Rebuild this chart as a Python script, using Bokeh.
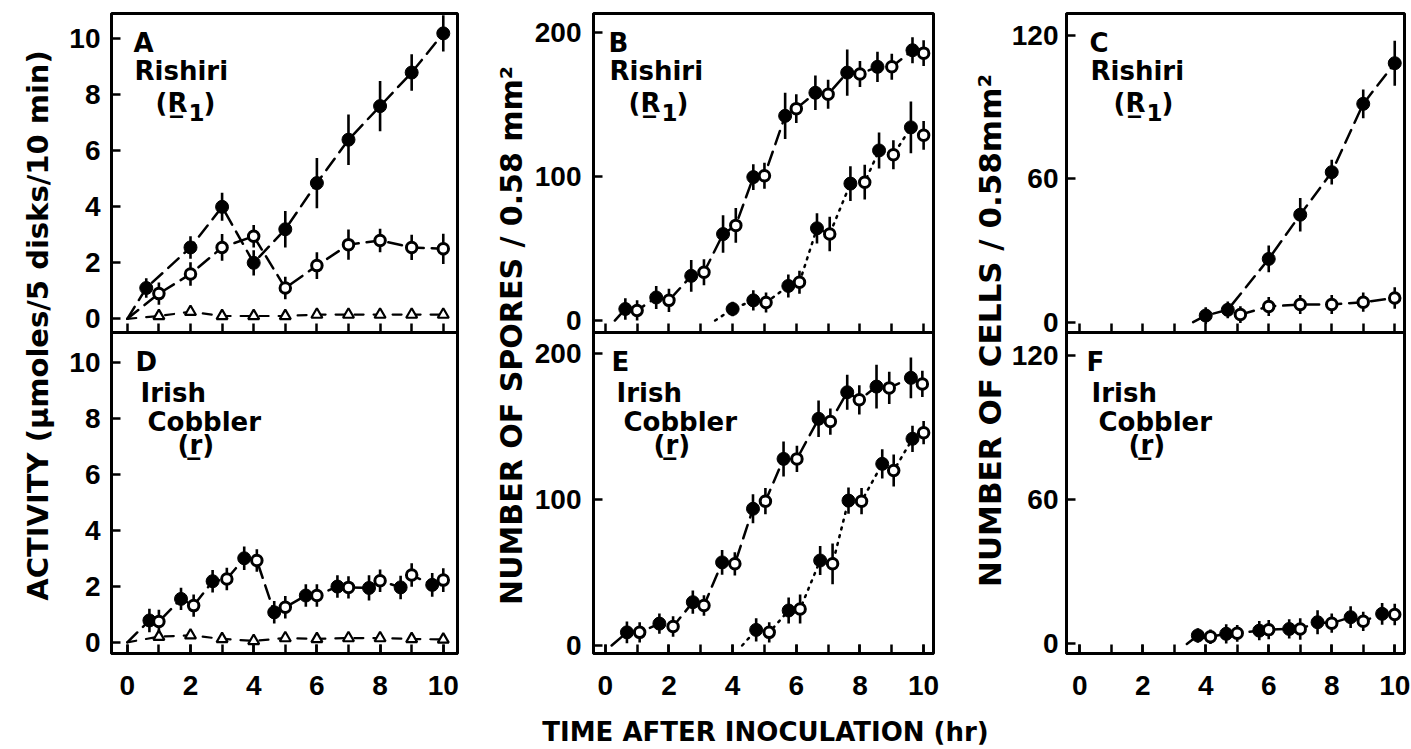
import numpy as np
from bokeh.plotting import figure
from bokeh.layouts import row, column
from bokeh.models import Range1d, FixedTicker
from bokeh.embed import file_html
from bokeh.resources import INLINE
from bokeh.core.properties import value

# ---------------- data ----------------
hour_ticks = [0, 2, 4, 6, 8, 10]
hour_minor = [0, 1, 2, 3, 4, 5, 6, 7, 8, 9, 10]
activity_ticks = [0, 2, 4, 6, 8, 10]
spore_ticks = [0, 100, 200]
cell_ticks = [0, 60, 120]

# Panel A  (Rishiri, activity)
a_fill_x = [0.6, 2, 3, 4, 5, 6, 7, 8, 9, 10]
a_fill_y = [1.1, 2.55, 4.0, 2.0, 3.2, 4.85, 6.4, 7.6, 8.8, 10.2]
a_fill_e = [0.35, 0.4, 0.5, 0.45, 0.65, 0.9, 0.9, 0.9, 0.65, 0.65]
a_open_x = [1, 2, 3, 4, 5, 6, 7, 8, 9, 10]
a_open_y = [0.9, 1.6, 2.55, 2.95, 1.1, 1.9, 2.65, 2.8, 2.55, 2.5]
a_open_e = [0.4, 0.42, 0.48, 0.4, 0.4, 0.48, 0.54, 0.42, 0.45, 0.54]
a_tri_x = [1, 2, 3, 4, 5, 6, 7, 8, 9, 10]
a_tri_y = [0.1, 0.25, 0.1, 0.1, 0.1, 0.15, 0.15, 0.15, 0.15, 0.15]

# Panel D  (Irish Cobbler, activity)
d_fill_x = [0.7, 1.7, 2.7, 3.7, 4.65, 5.65, 6.65, 7.65, 8.65, 9.65]
d_fill_y = [0.78, 1.55, 2.18, 3.0, 1.07, 1.67, 1.99, 1.94, 1.96, 2.05]
d_fill_e = [0.42, 0.4, 0.4, 0.42, 0.4, 0.4, 0.4, 0.45, 0.42, 0.42]
d_open_x = [1, 2.1, 3.15, 4.1, 5, 6, 7, 8, 9, 10]
d_open_y = [0.74, 1.31, 2.26, 2.92, 1.25, 1.67, 1.96, 2.2, 2.4, 2.22]
d_open_e = [0.42, 0.4, 0.4, 0.4, 0.4, 0.4, 0.4, 0.4, 0.42, 0.42]
d_tri_x = [1, 2, 3, 4, 5, 6, 7, 8, 9, 10]
d_tri_y = [0.2, 0.25, 0.12, 0.05, 0.15, 0.12, 0.15, 0.15, 0.12, 0.1]

# Panel B  (Rishiri, spores)
b_up_fill_x = [0.63, 1.6, 2.7, 3.7, 4.65, 5.65, 6.6, 7.6, 8.55, 9.65]
b_up_fill_y = [8, 16, 31, 60, 99.5, 142, 158, 172, 176, 187.5]
b_up_fill_e = [7.5, 8, 11, 13, 9, 16, 12, 16, 10.5, 9]
b_up_open_x = [1, 2, 3.1, 4.1, 5, 6, 7, 8, 9, 10]
b_up_open_y = [7, 14, 33.5, 66, 100.5, 147, 157, 171, 176, 185.5]
b_up_open_e = [7, 8, 9, 12, 9, 10, 10, 9, 9, 9]
b_lo_fill_x = [4.0, 4.65, 5.75, 6.65, 7.7, 8.6, 9.6]
b_lo_fill_y = [8, 14, 24, 64, 95, 118, 134]
b_lo_fill_e = [5, 7, 8, 10.5, 12, 12.5, 18]
b_lo_open_x = [5.05, 6.1, 7.05, 8.15, 9.05, 10]
b_lo_open_y = [12.5, 26.5, 60, 96, 115, 128.5]
b_lo_open_e = [7, 8, 12, 12, 10, 10]

# Panel E  (Irish Cobbler, spores)
e_up_fill_x = [0.68, 1.7, 2.75, 3.67, 4.64, 5.6, 6.7, 7.6, 8.52, 9.6]
e_up_fill_y = [9, 15, 29.7, 57, 93.8, 128, 155.5, 173.7, 177.6, 183.6]
e_up_fill_e = [7.5, 7, 8, 8.5, 10, 12, 12.5, 12, 15, 14]
e_up_open_x = [1.08, 2.13, 3.1, 4.07, 5.03, 6.02, 7.07, 7.98, 8.92, 9.96]
e_up_open_y = [9, 13, 27.4, 56, 99, 128, 153.6, 168.5, 176.7, 179.4]
e_up_open_e = [7, 7, 7, 8, 9, 9, 9, 10, 11, 9]
e_lo_fill_x = [4.74, 5.76, 6.75, 7.64, 8.7, 9.65]
e_lo_fill_y = [10.7, 24, 58.3, 99.4, 124.6, 141.8]
e_lo_fill_e = [8, 9, 10, 9, 10, 9]
e_lo_open_x = [5.15, 6.12, 7.14, 8.05, 9.06, 10]
e_lo_open_y = [9, 25, 56, 99, 120, 146]
e_lo_open_e = [7, 10, 14, 9, 11, 8]

# Panel C  (Rishiri, cells)
c_fill_x = [4.0, 4.7, 6.0, 7.0, 8.0, 9.0, 10.0]
c_fill_y = [2.8, 5.2, 26.5, 45, 62.8, 91.4, 108.4]
c_fill_e = [3.5, 3.5, 5.6, 7, 5.2, 6, 9.4]
c_open_x = [5.1, 6, 7, 8, 9, 10]
c_open_y = [3.2, 6.6, 7.4, 7.4, 8.4, 10.1]
c_open_e = [3.5, 4, 4, 4, 4, 4.5]

# Panel F  (Irish Cobbler, cells)
f_fill_x = [3.75, 4.65, 5.7, 6.65, 7.55, 8.6, 9.6]
f_fill_y = [3.5, 4.2, 5.5, 6.2, 9.0, 11.1, 12.5]
f_fill_e = [3, 4, 4, 4, 5, 4.5, 4.5]
f_open_x = [4.15, 5.0, 6.0, 7.0, 8.0, 9.0, 10.0]
f_open_y = [3.0, 4.4, 5.9, 6.2, 8.6, 9.4, 12.2]
f_open_e = [3, 3.5, 4, 4.5, 4, 4, 4.5]

# starting points of the drawn curves (time, value)
origin_zero = (0.0, 0.0)
origin_b_up = (0.3, 0.0)
origin_b_lo = (3.45, 0.0)
origin_e_up = (0.2, 0.0)
origin_e_lo = (4.3, 0.0)
origin_c = (3.6, 0.0)
origin_f = (3.4, 0.0)

# texts
title_activity = "ACTIVITY (\u03bcmoles/5 disks/10 min)"
title_spores = "NUMBER OF SPORES / 0.58 mm\u00b2"
title_cells = "NUMBER OF CELLS / 0.58mm\u00b2"
title_time = "TIME AFTER INOCULATION (hr)"

# ---------------- styling / helpers ----------------
FONT = "DejaVu Sans"
TICK_FONT = "Liberation Sans"
TOP_H = 319
BOT_H = 321
TOP_BORDER = 13
OVERLAP = 6
BOT_BORDER = 54
COL_H = TOP_BORDER + TOP_H + BOT_H + BOT_BORDER
DASH = "14 8"
TRI_DASH = "9 10"
DOT = "2 6"


def style_axis(ax, standoff):
    ax.axis_line_color = "black"
    ax.axis_line_width = 3
    ax.major_tick_line_color = "black"
    ax.major_tick_line_width = 2.5
    ax.minor_tick_line_color = "black"
    ax.minor_tick_line_width = 2.5
    ax.major_tick_in = 9
    ax.major_tick_out = 0
    ax.minor_tick_in = 9
    ax.minor_tick_out = 0
    ax.major_label_text_font = TICK_FONT
    ax.major_label_text_font_style = "bold"
    ax.major_label_text_font_size = "28px"
    ax.major_label_text_color = "black"
    ax.major_label_standoff = standoff


def panel(frame_w, frame_h, xlim, ylim, yticks, border_l, border_r,
          upper, ystandoff):
    p = figure(frame_width=frame_w, frame_height=frame_h,
               x_range=Range1d(*xlim), y_range=Range1d(*ylim),
               output_backend="svg", toolbar_location=None,
               min_border_left=border_l, min_border_right=border_r,
               min_border_top=TOP_BORDER if upper else 0,
               min_border_bottom=OVERLAP if upper else BOT_BORDER,
               background_fill_color="white", border_fill_color=None,
               outline_line_color="black", outline_line_width=3)
    p.xgrid.visible = False
    p.ygrid.visible = False
    xa = p.xaxis[0]
    if upper:
        xa.ticker = FixedTicker(ticks=[], minor_ticks=hour_minor)
        style_axis(xa, 0)
    else:
        xa.ticker = FixedTicker(ticks=hour_ticks, minor_ticks=hour_minor)
        style_axis(xa, 22)
        # the lower panel's canvas starts exactly on the upper panel's frame edge
        p.margin = (-OVERLAP, 0, 0, 0)
    ya = p.yaxis[0]
    ya.ticker = FixedTicker(ticks=yticks)
    style_axis(ya, ystandoff)
    return p


def joined(origin, *series):
    xs = [origin[0]] if origin is not None else []
    ys = [origin[1]] if origin is not None else []
    for sx, sy in series:
        xs += list(sx)
        ys += list(sy)
    order = np.argsort(xs, kind="stable")
    return np.asarray(xs)[order], np.asarray(ys)[order]


def curve(p, origin, series, dash, width=2.5):
    x, y = joined(origin, *series)
    p.line(x, y, line_color="black", line_width=width, line_dash=dash,
           line_cap="round")


def errbars(p, x, y, e):
    x = np.asarray(x, float)
    y = np.asarray(y, float)
    e = np.asarray(e, float)
    p.segment(x0=x, y0=y - e, x1=x, y1=y + e, line_color="black",
              line_width=2.6)


def filled(p, x, y, e):
    errbars(p, x, y, e)
    p.scatter(x, y, marker="circle", size=13, fill_color="black",
              line_color="black")


def opened(p, x, y, e):
    errbars(p, x, y, e)
    p.scatter(x, y, marker="circle", size=10.5, fill_color="white",
              line_color="black", line_width=3)


def triangles(p, x, y):
    p.scatter(x, y, marker="triangle", size=11, fill_color="white",
              line_color="black", line_width=2.2)


def panel_text(p, items):
    x0 = p.x_range.start
    y0 = p.y_range.end
    for txt, dx, dy, size in items:
        p.text(x=[x0], y=[y0], text=[txt], x_offset=dx, y_offset=dy,
               text_font=value(FONT), text_font_style="bold",
               text_font_size=size, text_color="black",
               text_align="left", text_baseline="alphabetic")


def rishiri(letter, dx0, dx1):
    return [(letter, dx0, 29, "26px"), ("Rishiri", dx0 + 1, 57, "26px"),
            ("(R\u0332", dx1, 89, "26px"), ("1", dx1 + 33, 99, "23px"),
            (")", dx1 + 48, 89, "26px")]


def irish(letter, dx0):
    return [(letter, dx0, 29, "26px"), ("Irish", dx0 + 5, 60, "26px"),
            ("Cobbler", dx0 + 12, 89, "26px"), ("(r\u0332)", dx0 + 42, 112, "26px")]


def title_fig(w, h, text, x, y, size, angle):
    p = figure(frame_width=w, frame_height=h, x_range=Range1d(0, w),
               y_range=Range1d(0, h), x_axis_location=None,
               y_axis_location=None, min_border=0, outline_line_color=None,
               toolbar_location=None, output_backend="svg",
               background_fill_color="white", border_fill_color="white")
    p.xgrid.visible = False
    p.ygrid.visible = False
    p.text(x=[x], y=[y], text=[text], angle=angle, text_font=value(FONT),
           text_font_style="bold", text_font_size=size, text_color="black",
           text_align="center", text_baseline="alphabetic")
    return p


# ---------------- column 1: activity (A, D) ----------------
pa = panel(346, TOP_H, (-0.5, 10.45), (-0.49, 10.91), activity_ticks, 53, 8, True, 11)
pd = panel(346, BOT_H, (-0.5, 10.45), (-0.40, 11.06), activity_ticks, 53, 8, False, 11)

curve(pa, origin_zero, [(a_fill_x, a_fill_y)], DASH)
curve(pa, origin_zero, [(a_open_x, a_open_y)], DASH)
curve(pa, origin_zero, [(a_tri_x, a_tri_y)], TRI_DASH, 2.2)
filled(pa, a_fill_x, a_fill_y, a_fill_e)
opened(pa, a_open_x, a_open_y, a_open_e)
triangles(pa, a_tri_x, a_tri_y)
panel_text(pa, rishiri("A", 22, 44))

curve(pd, origin_zero, [(d_fill_x, d_fill_y), (d_open_x, d_open_y)], DASH)
curve(pd, origin_zero, [(d_tri_x, d_tri_y)], TRI_DASH, 2.2)
triangles(pd, d_tri_x, d_tri_y)
filled(pd, d_fill_x, d_fill_y, d_fill_e)
opened(pd, d_open_x, d_open_y, d_open_e)
panel_text(pd, irish("D", 24))

# ---------------- column 2: spores (B, E) ----------------
pb = panel(340, TOP_H, (-0.37, 10.31), (-8.3, 213.0), spore_ticks, 59, 8, True, 12)
pe = panel(340, BOT_H, (-0.37, 10.31), (-5.5, 214.7), spore_ticks, 59, 8, False, 12)

curve(pb, origin_b_up, [(b_up_fill_x, b_up_fill_y), (b_up_open_x, b_up_open_y)], DASH)
curve(pb, origin_b_lo, [(b_lo_fill_x, b_lo_fill_y), (b_lo_open_x, b_lo_open_y)], DOT)
filled(pb, b_up_fill_x, b_up_fill_y, b_up_fill_e)
opened(pb, b_up_open_x, b_up_open_y, b_up_open_e)
filled(pb, b_lo_fill_x, b_lo_fill_y, b_lo_fill_e)
opened(pb, b_lo_open_x, b_lo_open_y, b_lo_open_e)
panel_text(pb, rishiri("B", 15, 35))

curve(pe, origin_e_up, [(e_up_fill_x, e_up_fill_y), (e_up_open_x, e_up_open_y)], DASH)
curve(pe, origin_e_lo, [(e_lo_fill_x, e_lo_fill_y), (e_lo_open_x, e_lo_open_y)], DOT)
filled(pe, e_up_fill_x, e_up_fill_y, e_up_fill_e)
opened(pe, e_up_open_x, e_up_open_y, e_up_open_e)
filled(pe, e_lo_fill_x, e_lo_fill_y, e_lo_fill_e)
opened(pe, e_lo_open_x, e_lo_open_y, e_lo_open_e)
panel_text(pe, irish("E", 18))

# ---------------- column 3: cells (C, F) ----------------
pc = panel(338, TOP_H, (-0.42, 10.31), (-4.3, 129.2), cell_ticks, 55, 8, True, 8)
pf = panel(338, BOT_H, (-0.42, 10.31), (-4.0, 129.5), cell_ticks, 55, 8, False, 8)

curve(pc, origin_c, [(c_fill_x, c_fill_y)], DASH)
curve(pc, None, [(c_open_x, c_open_y)], DASH)
filled(pc, c_fill_x, c_fill_y, c_fill_e)
opened(pc, c_open_x, c_open_y, c_open_e)
panel_text(pc, rishiri("C", 23, 47))

curve(pf, origin_f, [(f_fill_x, f_fill_y), (f_open_x, f_open_y)], DASH)
filled(pf, f_fill_x, f_fill_y, f_fill_e)
opened(pf, f_open_x, f_open_y, f_open_e)
panel_text(pf, irish("F", 20))

# ---------------- titles ----------------
t1 = title_fig(58, COL_H, title_activity, 37, COL_H - 325, "29px", np.pi / 2)
t2 = title_fig(66, COL_H, title_spores, 46, COL_H - 335, "30px", np.pi / 2)
t3 = title_fig(67, COL_H, title_cells, 48, COL_H - 330, "31px", np.pi / 2)
tx = title_fig(1406, 41, title_time, 765, 17, "26px", 0)

layout = column(
    row(t1, column(pa, pd, spacing=0), t2, column(pb, pe, spacing=0),
        t3, column(pc, pf, spacing=0), spacing=0),
    tx, spacing=0)
open("out.html", "w").write(file_html(layout, INLINE))
